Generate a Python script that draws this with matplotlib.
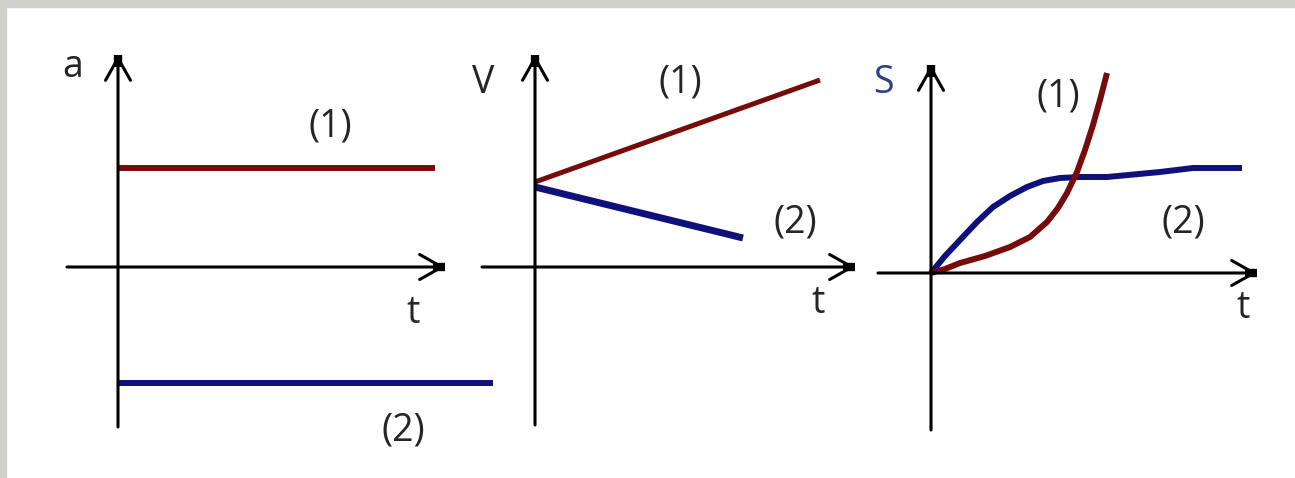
import numpy as np
import matplotlib.pyplot as plt
from matplotlib.patches import Rectangle

plt.rcParams['font.family'] = ['Open Sans', 'DejaVu Sans']

# panel 1: acceleration a(t)
a_t1 = [0, 3.17]
a_1 = [0.99, 0.99]
a_t2 = [0, 3.75]
a_2 = [-1.16, -1.16]

# panel 2: velocity V(t)
v_t1 = [0, 2.85]
v_1 = [0.85, 1.87]
v_t2 = [0, 2.08]
v_2 = [0.80, 0.29]

# panel 3: distance S(t)
s_t1 = [0, 0.14, 0.29, 0.54, 0.79, 0.99, 1.16, 1.27, 1.36, 1.46, 1.54, 1.62, 1.69, 1.76]
s_1 = [0, 0.04, 0.10, 0.17, 0.26, 0.36, 0.51, 0.65, 0.80, 1.01, 1.23, 1.48, 1.73, 2.00]
s_t2 = [0, 0.14, 0.29, 0.46, 0.62, 0.79, 0.96, 1.12, 1.29, 1.49, 1.76, 2.29, 2.62, 3.11]
s_2 = [0, 0.17, 0.33, 0.51, 0.66, 0.77, 0.86, 0.92, 0.95, 0.96, 0.96, 1.01, 1.05, 1.05]

red = "#760b0b"
blue = "#10107a"
txt = "#252525"

W, H = 1295, 478
fig = plt.figure(figsize=(W / 100, H / 100), dpi=100)
fig.patch.set_facecolor("white")
# grey frame on top and left edge
fig.patches.append(Rectangle((0, 1 - 7 / H), 1, 7 / H, transform=fig.transFigure,
                             color="#d0d0cc", zorder=0))
fig.patches.append(Rectangle((0, 0), 6 / W, 1, transform=fig.transFigure,
                             color="#d0d0cc", zorder=0))


def make_ax(x0, x1, y0, y1, origin):
    # pixel box -> axes with 100 px per data unit, origin at given pixel
    ox, oy = origin
    ax = fig.add_axes([x0 / W, 1 - y1 / H, (x1 - x0) / W, (y1 - y0) / H])
    ax.set_xlim((x0 - ox) / 100, (x1 - ox) / 100)
    ax.set_ylim((oy - y1) / 100, (oy - y0) / 100)
    ax.axis("off")
    return ax


def axes_arrows(ax, xa, xb, ya, yb):
    ap = dict(arrowstyle="->,head_length=0.8,head_width=0.45", lw=2.2,
              color="black", shrinkA=0, shrinkB=0, mutation_scale=20)
    ax.annotate("", xy=(xb, 0), xytext=(xa, 0), arrowprops=ap)
    ax.annotate("", xy=(0, yb), xytext=(0, ya), arrowprops=ap)
    ax.plot([xb - 0.12, xb], [0, 0], color="black", lw=6, solid_capstyle="butt")
    ax.plot([0, 0], [yb - 0.12, yb], color="black", lw=6, solid_capstyle="butt")


fs = 27

# panel 1
ax1 = make_ax(60, 500, 45, 445, (118, 267))
axes_arrows(ax1, -0.51, 3.27, -1.60, 2.12)
ax1.plot(a_t1, a_1, color=red, lw=4.3, solid_capstyle="butt")
ax1.plot(a_t2, a_2, color=blue, lw=4.3, solid_capstyle="butt")
ax1.text(-0.45, 2.0, "a", fontsize=fs, color=txt, ha="center", va="center")
ax1.text(2.12, 1.40, "(1)", fontsize=fs, color=txt, ha="center", va="center")
ax1.text(2.85, -1.63, "(2)", fontsize=fs, color=txt, ha="center", va="center")
ax1.text(2.95, -0.46, "t", fontsize=fs, color=txt, ha="center", va="center")

# panel 2
ax2 = make_ax(475, 870, 45, 445, (535, 267))
axes_arrows(ax2, -0.53, 3.20, -1.58, 2.12)
ax2.plot(v_t1, v_1, color=red, lw=3.6, solid_capstyle="butt")
ax2.plot(v_t2, v_2, color=blue, lw=5.0, solid_capstyle="butt")
ax2.text(-0.52, 1.84, "V", fontsize=fs, color=txt, ha="center", va="center")
ax2.text(1.45, 1.85, "(1)", fontsize=fs, color=txt, ha="center", va="center")
ax2.text(2.60, 0.45, "(2)", fontsize=fs, color=txt, ha="center", va="center")
ax2.text(2.83, -0.36, "t", fontsize=fs, color=txt, ha="center", va="center")

# panel 3
ax3 = make_ax(870, 1290, 45, 445, (931, 273))
axes_arrows(ax3, -0.53, 3.26, -1.57, 2.08)
ax3.plot(s_t2, s_2, color=blue, lw=4.3, solid_capstyle="butt", solid_joinstyle="round")
ax3.plot(s_t1, s_1, color=red, lw=4.3, solid_capstyle="butt", solid_joinstyle="round")
ax3.text(-0.48, 1.90, "S", fontsize=fs, color="#2b3f8c", ha="center", va="center")
ax3.text(1.27, 1.76, "(1)", fontsize=fs, color=txt, ha="center", va="center")
ax3.text(2.52, 0.51, "(2)", fontsize=fs, color=txt, ha="center", va="center")
ax3.text(3.12, -0.35, "t", fontsize=fs, color=txt, ha="center", va="center")

fig.savefig("out.png", dpi=100, facecolor=fig.get_facecolor())
